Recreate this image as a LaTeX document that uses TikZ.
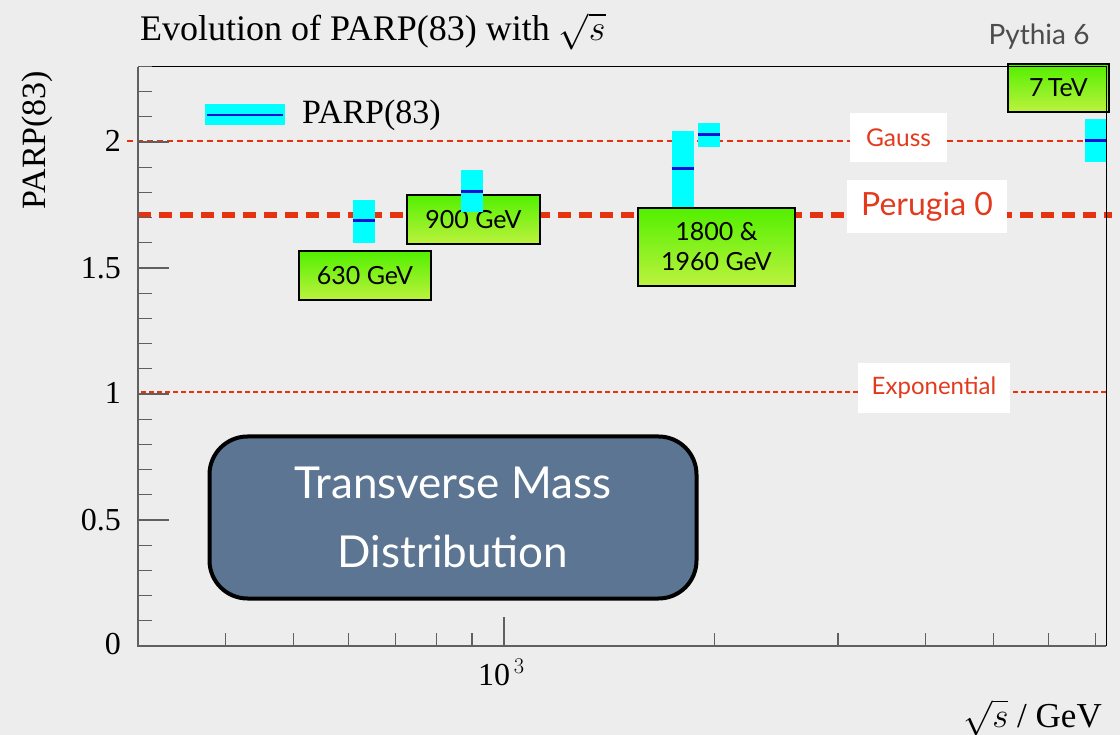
\RequirePackage{fix-cm}
\documentclass[tikz,border=0pt]{standalone}
\usepackage{fontspec}
\setmainfont{Liberation Serif}
\newfontfamily\gill{Lato}
\usetikzlibrary{calc}
\definecolor{bgcol}{HTML}{EDEDED}
\definecolor{redline}{HTML}{E5330F}
\definecolor{redtext}{HTML}{E33A1E}
\definecolor{bandcyan}{HTML}{00FFFF}
\definecolor{bandblue}{HTML}{1010D8}
\definecolor{grtop}{HTML}{52F000}
\definecolor{grbot}{HTML}{BDF23E}
\definecolor{tmbox}{HTML}{5B7592}
\definecolor{axisgray}{HTML}{606060}
\tikzset{
  rootfont/.style={font=\fontsize{34}{38}\selectfont},
  ticklab/.style={font=\fontsize{32}{36}\selectfont, anchor=east, inner sep=0pt},
  greenbox/.style={draw=black, line width=2pt, top color=grtop, bottom color=grbot,
     font=\gill\fontsize{25}{30}\selectfont, align=center, inner sep=0pt},
  whitelab/.style={fill=white, inner sep=0pt, text=redtext},
  band/.style={fill=bandcyan, draw=none},
  bandmid/.style={draw=bandblue, line width=3pt},
  gaussline/.style={draw=redline, line width=2pt, dash pattern=on 6pt off 4pt},
  perline/.style={draw=redline, line width=5.5pt, dash pattern=on 13pt off 8pt},
  expline/.style={draw=redline, line width=1.6pt, dash pattern=on 5pt off 3pt},
  minortick/.style={draw=axisgray, line width=1.2pt},
}
\begin{document}
\begin{tikzpicture}[x=1pt,y=-1pt]
\useasboundingbox (0,0) rectangle (1120,735);
\fill[bgcol] (0,0) rectangle (1120,735);

% reference lines
\draw[gaussline] (127,141) -- (1106,141);
\draw[perline] (138,215) -- (1112,215);
\draw[expline] (141,392) -- (1108,392);

% labels on the lines
\node[whitelab, minimum width=97pt, minimum height=49pt, font=\gill\fontsize{24.5}{28}\selectfont] (gauss) at (898.5,137.5) {Gauss};
\node[whitelab, minimum width=160pt, minimum height=53pt, font=\gill\fontsize{32}{36}\selectfont] (perugia) at (927,206.5) {Perugia 0};
\node[whitelab, minimum width=152pt, minimum height=50pt, font=\gill\fontsize{24}{28}\selectfont] (expo) at (934,388) {Exponential};

% data bands (below boxes)
\fill[band] (352.5,200) rectangle (374.5,243);
\draw[bandmid] (352.5,221) -- (374.5,221);
\fill[band] (671.7,131) rectangle (693.7,208);
\draw[bandmid] (671.7,169) -- (693.7,169);
\fill[band] (697.6,123) rectangle (719.6,147);
\draw[bandmid] (697.6,135) -- (719.6,135);
\fill[band] (1084.6,119) rectangle (1106,162);
\draw[bandmid] (1084.6,141) -- (1106,141);

% legend
\fill[band] (205,104) rectangle (285,125);
\draw[draw=bandblue, line width=2.5pt] (207,115) -- (283,115);
\node[rootfont, anchor=base west, inner sep=0pt] (legtext) at (302,124) {PARP(83)};

% energy boxes
\node[greenbox, minimum width=132pt, minimum height=49pt] (b630) at (365,275.5) {630 GeV};
\node[greenbox, minimum width=133pt, minimum height=49pt] (b900) at (473.5,219.5) {\raisebox{-4pt}{900 GeV}};
\node[greenbox, minimum width=157pt, minimum height=78pt] (b1800) at (716.5,247) {1800 \&\\1960 GeV};
\node[greenbox, minimum width=101pt, minimum height=48pt] (b7) at (1058.5,88) {7\,TeV};

% 900 GeV band lies over its box
\fill[band] (461,170) rectangle (483,212);
\draw[bandmid] (461,192) -- (483,192);

% frame
\draw[black, line width=1pt] (138,67) -- (1106,67) -- (1106,646);
\draw[axisgray, line width=2pt] (138,67) -- (138,646) -- (1106,646);

% y ticks
\foreach \k in {1,...,23} {
  \draw[minortick] (138,{646-25.2*\k}) -- (152,{646-25.2*\k});
}
\foreach \v in {0.5,1,1.5,2} {
  \draw[minortick] (138,{646-252*\v}) -- (169,{646-252*\v});
}
% x ticks
\foreach \e in {400,500,600,700,800,900,2000,3000,4000,5000,6000,7000} {
  \draw[minortick] ({504+700*log10(\e/1000)},646) -- ({504+700*log10(\e/1000)},633);
}
\draw[minortick] (504,646) -- (504,617);

% tick labels
\node[ticklab] (y0) at (121,644) {0};
\node[ticklab] (y05) at (121,520) {0.5};
\node[ticklab] (y1) at (121,393) {1};
\node[ticklab] (y15) at (121,268) {1.5};
\node[ticklab] (y2) at (121,141) {2};
\node[font=\fontsize{32}{36}\selectfont, anchor=base west, inner sep=0pt] (x3) at (478,685) {10$^{\,3}$};

% axis titles
\node[rootfont, rotate=90, inner sep=0pt] (ytitle) at (37,140) {PARP(83)};
\node[font=\fontsize{35}{38}\selectfont, anchor=base east, inner sep=0pt] (xtitle) at (1102,727) {$\sqrt{s}$ / GeV};
\node[font=\fontsize{36}{40}\selectfont, anchor=base west, inner sep=0pt] (title) at (140,41) {Evolution of PARP(83) with $\sqrt{s}$};

% Pythia 6
\node[font=\gill\fontsize{28}{32}\selectfont, text=black!70, inner sep=0pt] (pythia) at (1039,37) {Pythia 6};

% transverse mass box
\node[draw=black, line width=4pt, fill=tmbox, rounded corners=38pt,
      minimum width=487pt, minimum height=162pt, text=white, align=center,
      font=\gill\fontsize{44}{69}\selectfont] (tm) at (453,517.5) {Transverse Mass\\Distribution};
\end{tikzpicture}
\end{document}
